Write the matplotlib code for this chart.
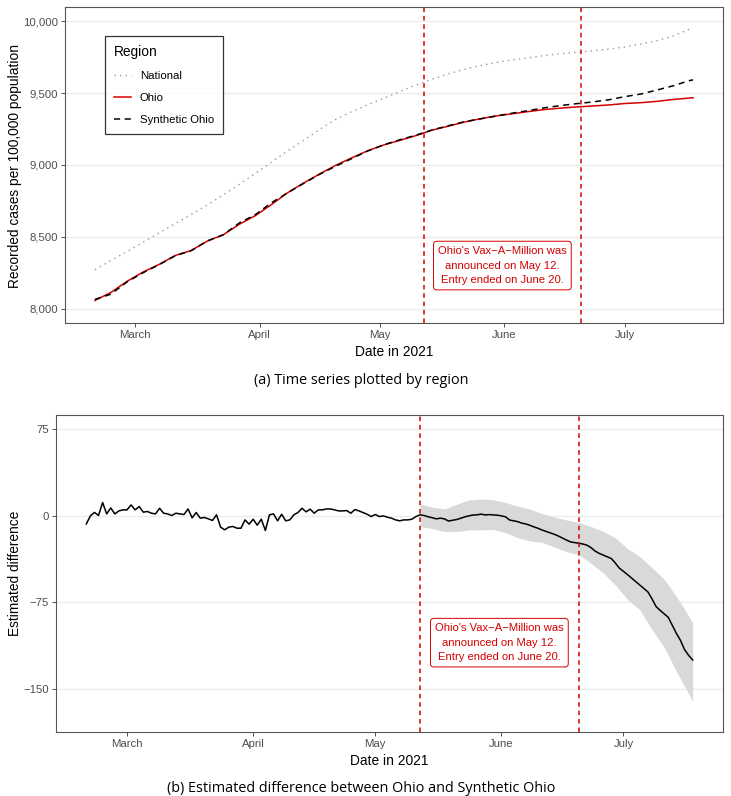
import matplotlib
matplotlib.use("Agg")
import matplotlib.pyplot as plt
import pandas as pd
from matplotlib.ticker import FuncFormatter

plt.rcParams["font.family"] = ["Liberation Sans", "DejaVu Sans"]

# daily dates, Feb 19 .. Jul 18 2021
days = pd.date_range("2021-02-19", "2021-07-18", freq="D")
announce = pd.Timestamp("2021-05-12")
entry_end = pd.Timestamp("2021-06-20")

# top panel: values read every 4 days (+ last day)
top_idx = list(range(0, 149, 4)) + [149]
national = [8271, 8335, 8398, 8462, 8528, 8592, 8655, 8722, 8792, 8866,
            8942, 9020, 9098, 9172, 9248, 9318, 9372, 9420, 9465, 9512,
            9557, 9598, 9635, 9666, 9692, 9714, 9732, 9747, 9762, 9775,
            9785, 9795, 9807, 9822, 9842, 9865, 9898, 9945, 9955]
ohio = [8057, 8113, 8190, 8255, 8308, 8370, 8405, 8470, 8515, 8588,
        8648, 8725, 8807, 8875, 8938, 8998, 9050, 9100, 9140, 9172,
        9205, 9243, 9270, 9299, 9322, 9342, 9357, 9372, 9386, 9396,
        9404, 9411, 9418, 9428, 9434, 9443, 9456, 9466, 9468]
synthetic = [8064, 8101, 8186, 8250, 8306, 8368, 8404, 8472, 8514, 8597,
             8655, 8738, 8806, 8872, 8936, 8992, 9045, 9098, 9141, 9176,
             9208, 9244, 9273, 9301, 9321, 9341, 9361, 9379, 9398, 9414,
             9427, 9439, 9454, 9476, 9494, 9522, 9551, 9587, 9593]

# bottom panel: daily estimated difference (Ohio - Synthetic Ohio)
gap = [-7, 0, 3, 0.3, 11.6, 1.7, 6.9, 1.7, 4.3, 5.2,
       5.2, 9.5, 5.2, 8.1, 3.2, 3.8, 2.3, 1.7, 6.6, 2.3,
       1.7, 0.3, 2.3, 1.7, 1.2, 6, -1.7, 2.9, -2, -1.4,
       -2.6, -4, 0.9, -9.8, -12.1, -9.8, -9.2, -10.7, -10.7, -3.5,
       -7.2, -2.9, -8.1, -2.9, -12.7, 0.9, 1.7, -4.3, 1.4, -4.3,
       -3.5, 0.9, 2.9, 6.6, 3.5, 5.8, 2.3, 5.2, 5.2, 6,
       6, 5.2, 4.3, 4.3, 4.6, 2.3, 5.5, 4.3, 2.9, 1.4,
       -0.6, 1.2, -0.6, 0, -1.2, -2, -3.5, -4.3, -3.5, -3.5,
       -2.9, -0.6, 0.9, 0.3, -0.8, -1.6, -2.6, -2, -2.6, -4.5,
       -3.8, -3.2, -2, -0.9, 0, 0.7, 0.9, 1.5, 0.8, 1.1,
       0.8, 0.6, 0, -0.8, -3.6, -4.3, -5, -6.3, -7, -8.2,
       -9.6, -10.8, -12.3, -13.5, -14.8, -16, -17.5, -19.3, -21, -22.6,
       -23.2, -23.7, -24.4, -25.4, -27.5, -30.5, -32.5, -34, -35.5, -37,
       -41, -45.4, -48.2, -51, -54, -57, -60, -63, -66, -72,
       -78.6, -82, -85, -88, -95, -102, -108, -116, -121, -125]

band_idx = [82, 85, 88, 91, 94, 97, 100, 103, 106, 109, 112, 115,
            118, 121, 124, 127, 130, 133, 136, 139, 142, 145, 147, 149]
band_hi = [10.4, 7.5, 6, 10, 13.8, 14.7, 14, 11.5, 8.5, 5.8, 2, -1,
           -3.5, -5.8, -9.2, -13.5, -19, -28.5, -35.3, -45, -55, -69.9, -81, -93]
band_lo = [-9.2, -11, -13.5, -13.5, -12.2, -12.1, -11.8, -14.5, -19, -21.7, -23, -27,
           -31, -33.8, -41, -49.5, -60, -72.5, -81.5, -98.5, -114, -135, -148, -161]

month_ticks = pd.to_datetime(["2021-03-01", "2021-04-01", "2021-05-01",
                              "2021-06-01", "2021-07-01"])
month_labels = ["March", "April", "May", "June", "July"]

RED = "#D40000"
note = "Ohio's Vax\u2212A\u2212Million was\nannounced on May 12.\nEntry ended on June 20."

fig = plt.figure(figsize=(7.31, 7.96), dpi=100)
ax1 = fig.add_axes([65 / 731, 1 - 323 / 796, 658 / 731, 316 / 796])
ax2 = fig.add_axes([56 / 731, 1 - 732 / 796, 667 / 731, 317 / 796])

pad = pd.Timedelta(days=7.45)
xlim = (days[0] - pad, days[-1] + pad)


def style(ax):
    ax.set_xlim(xlim)
    ax.set_xticks(month_ticks)
    ax.set_xticklabels(month_labels)
    ax.grid(axis="y", color="#EBEBEB", lw=0.9)
    ax.set_axisbelow(True)
    for s in ax.spines.values():
        s.set_color("#555555")
        s.set_linewidth(0.8)
    ax.tick_params(length=3, width=0.6, color="#333333", labelcolor="#4D4D4D",
                   labelsize=8.2, pad=2)
    ax.set_xlabel("Date in 2021", fontsize=9.9, labelpad=3.5)


tdates = days[top_idx]
ax1.plot(tdates, national, color="#9A9A9A", lw=1.0, ls=(0, (1, 3)), label="National")
ax1.plot(tdates, ohio, color=RED, lw=1.1, label="Ohio")
ax1.plot(tdates, synthetic, color="black", lw=1.1, ls=(0, (4, 3)), label="Synthetic Ohio")
for d in (announce, entry_end):
    ax1.axvline(d, color=RED, lw=1.1, ls=(0, (3, 2.5)))
style(ax1)
ax1.set_ylim(7900, 10100)
ax1.set_yticks([8000, 8500, 9000, 9500, 10000])
ax1.yaxis.set_major_formatter(FuncFormatter(lambda v, _: f"{v:,.0f}"))
mid = announce + (entry_end - announce) / 2
box = dict(boxstyle="round,pad=0.4,rounding_size=0.3", fc="white", ec=RED, lw=0.7)
ax1.text(mid, 8300, note, color=RED, fontsize=8.1, ha="center", va="center",
         linespacing=1.6, bbox=box)
leg = ax1.legend(loc="upper left", bbox_to_anchor=(0.061, 0.908), borderaxespad=0,
                 title="Region", fontsize=8.2, title_fontsize=9.9, frameon=True,
                 fancybox=False, edgecolor="black", handlelength=1.5,
                 labelspacing=1.05, borderpad=0.8, handletextpad=0.75)
leg.get_frame().set_linewidth(0.9)
leg._legend_box.align = "left"

ax2.fill_between(days[band_idx], band_lo, band_hi, color="#D9D9D9", lw=0)
ax2.plot(days, gap, color="black", lw=1.1)
for d in (announce, entry_end):
    ax2.axvline(d, color=RED, lw=1.1, ls=(0, (3, 2.5)))
style(ax2)
ax2.set_ylim(-187.5, 87.5)
ax2.set_yticks([-150, -75, 0, 75])
ax2.yaxis.set_major_formatter(FuncFormatter(lambda v, _: f"{v:g}".replace("-", "\u2212")))
ax2.text(mid, -110, note, color=RED, fontsize=8.1, ha="center", va="center",
         linespacing=1.6, bbox=box)

# y axis titles placed at the same column as in the original
ylab = dict(fontsize=9.9, rotation=90, ha="center", va="center")
fig.text(15 / 731, 1 - 166 / 796, "Recorded cases per 100,000 population", **ylab)
fig.text(15 / 731, 1 - 573 / 796, "Estimated difference", **ylab)

cap = dict(fontsize=10.4, family=["Open Sans", "DejaVu Sans"], ha="center", va="center")
fig.text(0.494, 1 - 381 / 796, "(a) Time series plotted by region", **cap)
fig.text(0.494, 1 - 788 / 796, "(b) Estimated difference between Ohio and Synthetic Ohio", **cap)

fig.savefig("out.png", dpi=100)
